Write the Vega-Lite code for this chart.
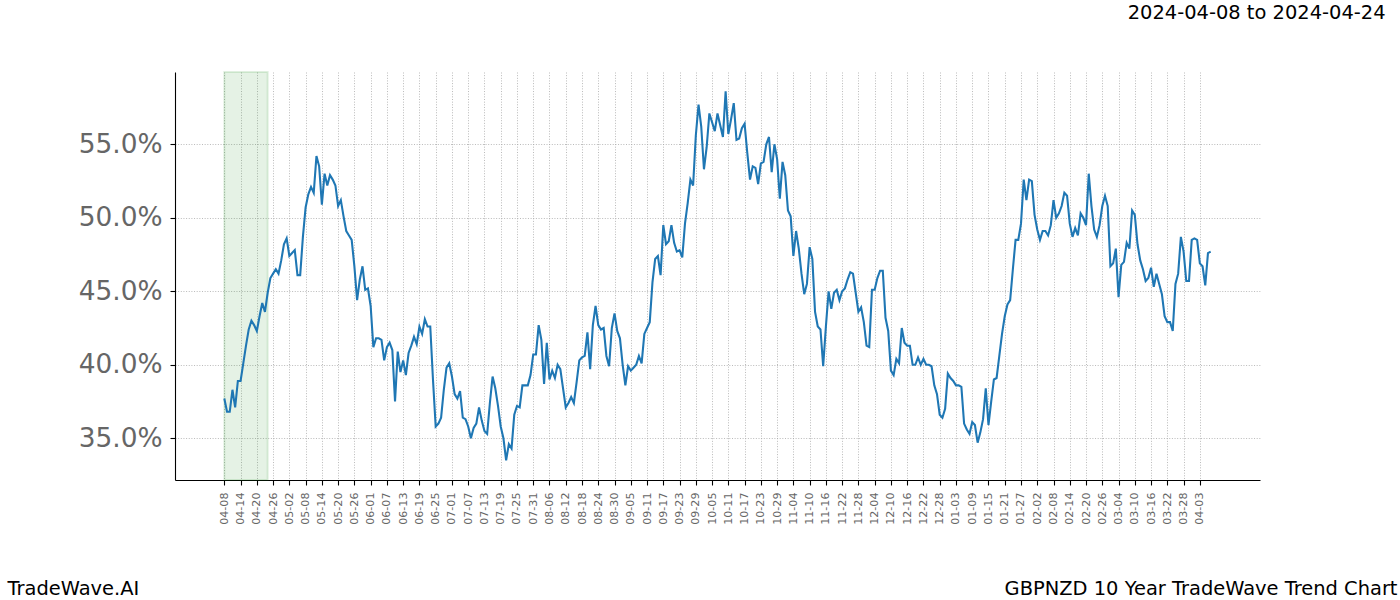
{
  "$schema": "https://vega.github.io/schema/vega-lite/v6.json",
  "width": 1085,
  "height": 408,
  "autosize": {"type": "none"},
  "padding": {"left": 175, "top": 72, "right": 140, "bottom": 120},
  "background": "white",
  "config": {"font": "DejaVu Sans", "view": {"stroke": null}},
  "layer": [
    {
      "data": {"values": [{"start": "2024-04-08", "end": "2024-04-24"}]},
      "mark": {"type": "rect", "fill": "green", "fillOpacity": 0.1, "stroke": "green", "strokeOpacity": 0.12, "strokeWidth": 2},
      "encoding": {
        "x": {
          "field": "start", "type": "temporal",
          "axis": {
            "orient": "top",
            "labels": false,
            "ticks": false,
            "domain": false,
            "grid": false,
            "title": "2024-04-08 to 2024-04-24",
            "titleAlign": "right",
            "titleBaseline": "alphabetic",
            "titleX": 1210,
            "titleY": -53.7,
            "titleFontSize": 19.44,
            "titleFontWeight": "normal",
            "titleColor": "#000000"
          }
        },
        "x2": {"field": "end"}
      }
    },
    {
      "data": {"values": [
        {"date": "2024-04-08", "v": 37.7}, {"date": "2024-04-09", "v": 36.8}, {"date": "2024-04-10", "v": 36.8}, {"date": "2024-04-11", "v": 38.3}, {"date": "2024-04-12", "v": 37.1}, {"date": "2024-04-13", "v": 38.9}, {"date": "2024-04-14", "v": 38.9}, {"date": "2024-04-15", "v": 40.1}, {"date": "2024-04-16", "v": 41.3}, {"date": "2024-04-17", "v": 42.4}, {"date": "2024-04-18", "v": 43.0}, {"date": "2024-04-19", "v": 42.7}, {"date": "2024-04-20", "v": 42.3}, {"date": "2024-04-21", "v": 43.3}, {"date": "2024-04-22", "v": 44.2}, {"date": "2024-04-23", "v": 43.6}, {"date": "2024-04-24", "v": 44.9}, {"date": "2024-04-25", "v": 45.9}, {"date": "2024-04-26", "v": 46.2}, {"date": "2024-04-27", "v": 46.5}, {"date": "2024-04-28", "v": 46.2}, {"date": "2024-04-29", "v": 47.1}, {"date": "2024-04-30", "v": 48.2},
        {"date": "2024-05-01", "v": 48.6}, {"date": "2024-05-02", "v": 47.4}, {"date": "2024-05-03", "v": 47.6}, {"date": "2024-05-04", "v": 47.8}, {"date": "2024-05-05", "v": 46.1}, {"date": "2024-05-06", "v": 46.1}, {"date": "2024-05-07", "v": 48.7}, {"date": "2024-05-08", "v": 50.7}, {"date": "2024-05-09", "v": 51.6}, {"date": "2024-05-10", "v": 52.1}, {"date": "2024-05-11", "v": 51.7}, {"date": "2024-05-12", "v": 54.2}, {"date": "2024-05-13", "v": 53.5}, {"date": "2024-05-14", "v": 50.9}, {"date": "2024-05-15", "v": 53.0}, {"date": "2024-05-16", "v": 52.2}, {"date": "2024-05-17", "v": 52.9}, {"date": "2024-05-18", "v": 52.6}, {"date": "2024-05-19", "v": 52.2}, {"date": "2024-05-20", "v": 50.8}, {"date": "2024-05-21", "v": 51.2}, {"date": "2024-05-22", "v": 50.1}, {"date": "2024-05-23", "v": 49.1}, {"date": "2024-05-24", "v": 48.8}, {"date": "2024-05-25", "v": 48.5}, {"date": "2024-05-26", "v": 46.7}, {"date": "2024-05-27", "v": 44.4}, {"date": "2024-05-28", "v": 45.8}, {"date": "2024-05-29", "v": 46.7}, {"date": "2024-05-30", "v": 45.1}, {"date": "2024-05-31", "v": 45.2},
        {"date": "2024-06-01", "v": 44.0}, {"date": "2024-06-02", "v": 41.2}, {"date": "2024-06-03", "v": 41.8}, {"date": "2024-06-04", "v": 41.8}, {"date": "2024-06-05", "v": 41.7}, {"date": "2024-06-06", "v": 40.3}, {"date": "2024-06-07", "v": 41.2}, {"date": "2024-06-08", "v": 41.5}, {"date": "2024-06-09", "v": 41.0}, {"date": "2024-06-10", "v": 37.5}, {"date": "2024-06-11", "v": 40.9}, {"date": "2024-06-12", "v": 39.5}, {"date": "2024-06-13", "v": 40.3}, {"date": "2024-06-14", "v": 39.3}, {"date": "2024-06-15", "v": 40.8}, {"date": "2024-06-16", "v": 41.3}, {"date": "2024-06-17", "v": 41.9}, {"date": "2024-06-18", "v": 41.4}, {"date": "2024-06-19", "v": 42.6}, {"date": "2024-06-20", "v": 42.1}, {"date": "2024-06-21", "v": 43.1}, {"date": "2024-06-22", "v": 42.6}, {"date": "2024-06-23", "v": 42.6}, {"date": "2024-06-24", "v": 39.0}, {"date": "2024-06-25", "v": 35.8}, {"date": "2024-06-26", "v": 36.0}, {"date": "2024-06-27", "v": 36.4}, {"date": "2024-06-28", "v": 38.3}, {"date": "2024-06-29", "v": 39.8}, {"date": "2024-06-30", "v": 40.1},
        {"date": "2024-07-01", "v": 39.2}, {"date": "2024-07-02", "v": 38.0}, {"date": "2024-07-03", "v": 37.7}, {"date": "2024-07-04", "v": 38.2}, {"date": "2024-07-05", "v": 36.4}, {"date": "2024-07-06", "v": 36.3}, {"date": "2024-07-07", "v": 35.8}, {"date": "2024-07-08", "v": 35.0}, {"date": "2024-07-09", "v": 35.7}, {"date": "2024-07-10", "v": 36.0}, {"date": "2024-07-11", "v": 37.1}, {"date": "2024-07-12", "v": 36.2}, {"date": "2024-07-13", "v": 35.5}, {"date": "2024-07-14", "v": 35.3}, {"date": "2024-07-15", "v": 37.4}, {"date": "2024-07-16", "v": 39.2}, {"date": "2024-07-17", "v": 38.4}, {"date": "2024-07-18", "v": 37.2}, {"date": "2024-07-19", "v": 35.8}, {"date": "2024-07-20", "v": 35.0}, {"date": "2024-07-21", "v": 33.5}, {"date": "2024-07-22", "v": 34.6}, {"date": "2024-07-23", "v": 34.3}, {"date": "2024-07-24", "v": 36.6}, {"date": "2024-07-25", "v": 37.2}, {"date": "2024-07-26", "v": 37.1}, {"date": "2024-07-27", "v": 38.6}, {"date": "2024-07-28", "v": 38.6}, {"date": "2024-07-29", "v": 38.6}, {"date": "2024-07-30", "v": 39.3}, {"date": "2024-07-31", "v": 40.7},
        {"date": "2024-08-01", "v": 40.7}, {"date": "2024-08-02", "v": 42.7}, {"date": "2024-08-03", "v": 41.7}, {"date": "2024-08-04", "v": 38.7}, {"date": "2024-08-05", "v": 41.5}, {"date": "2024-08-06", "v": 39.0}, {"date": "2024-08-07", "v": 39.6}, {"date": "2024-08-08", "v": 39.1}, {"date": "2024-08-09", "v": 40.0}, {"date": "2024-08-10", "v": 39.7}, {"date": "2024-08-11", "v": 38.4}, {"date": "2024-08-12", "v": 37.1}, {"date": "2024-08-13", "v": 37.4}, {"date": "2024-08-14", "v": 37.8}, {"date": "2024-08-15", "v": 37.4}, {"date": "2024-08-16", "v": 38.8}, {"date": "2024-08-17", "v": 40.3}, {"date": "2024-08-18", "v": 40.5}, {"date": "2024-08-19", "v": 40.6}, {"date": "2024-08-20", "v": 42.2}, {"date": "2024-08-21", "v": 39.7}, {"date": "2024-08-22", "v": 42.7}, {"date": "2024-08-23", "v": 44.0}, {"date": "2024-08-24", "v": 42.7}, {"date": "2024-08-25", "v": 42.4}, {"date": "2024-08-26", "v": 42.5}, {"date": "2024-08-27", "v": 40.6}, {"date": "2024-08-28", "v": 39.9}, {"date": "2024-08-29", "v": 42.5}, {"date": "2024-08-30", "v": 43.5}, {"date": "2024-08-31", "v": 42.3},
        {"date": "2024-09-01", "v": 41.8}, {"date": "2024-09-02", "v": 40.0}, {"date": "2024-09-03", "v": 38.6}, {"date": "2024-09-04", "v": 39.9}, {"date": "2024-09-05", "v": 39.6}, {"date": "2024-09-06", "v": 39.8}, {"date": "2024-09-07", "v": 40.0}, {"date": "2024-09-08", "v": 40.6}, {"date": "2024-09-09", "v": 40.1}, {"date": "2024-09-10", "v": 42.1}, {"date": "2024-09-11", "v": 42.5}, {"date": "2024-09-12", "v": 42.9}, {"date": "2024-09-13", "v": 45.6}, {"date": "2024-09-14", "v": 47.2}, {"date": "2024-09-15", "v": 47.4}, {"date": "2024-09-16", "v": 46.1}, {"date": "2024-09-17", "v": 49.5}, {"date": "2024-09-18", "v": 48.2}, {"date": "2024-09-19", "v": 48.4}, {"date": "2024-09-20", "v": 49.5}, {"date": "2024-09-21", "v": 48.3}, {"date": "2024-09-22", "v": 47.7}, {"date": "2024-09-23", "v": 47.8}, {"date": "2024-09-24", "v": 47.3}, {"date": "2024-09-25", "v": 49.6}, {"date": "2024-09-26", "v": 51.0}, {"date": "2024-09-27", "v": 52.6}, {"date": "2024-09-28", "v": 52.2}, {"date": "2024-09-29", "v": 55.6}, {"date": "2024-09-30", "v": 57.7},
        {"date": "2024-10-01", "v": 56.2}, {"date": "2024-10-02", "v": 53.3}, {"date": "2024-10-03", "v": 54.8}, {"date": "2024-10-04", "v": 57.1}, {"date": "2024-10-05", "v": 56.5}, {"date": "2024-10-06", "v": 55.9}, {"date": "2024-10-07", "v": 57.1}, {"date": "2024-10-08", "v": 56.3}, {"date": "2024-10-09", "v": 55.5}, {"date": "2024-10-10", "v": 58.6}, {"date": "2024-10-11", "v": 55.7}, {"date": "2024-10-12", "v": 56.7}, {"date": "2024-10-13", "v": 57.8}, {"date": "2024-10-14", "v": 55.3}, {"date": "2024-10-15", "v": 55.4}, {"date": "2024-10-16", "v": 56.1}, {"date": "2024-10-17", "v": 56.4}, {"date": "2024-10-18", "v": 54.4}, {"date": "2024-10-19", "v": 52.6}, {"date": "2024-10-20", "v": 53.5}, {"date": "2024-10-21", "v": 53.4}, {"date": "2024-10-22", "v": 52.3}, {"date": "2024-10-23", "v": 53.7}, {"date": "2024-10-24", "v": 53.8}, {"date": "2024-10-25", "v": 55.0}, {"date": "2024-10-26", "v": 55.5}, {"date": "2024-10-27", "v": 53.1}, {"date": "2024-10-28", "v": 55.0}, {"date": "2024-10-29", "v": 54.0}, {"date": "2024-10-30", "v": 51.3}, {"date": "2024-10-31", "v": 53.8},
        {"date": "2024-11-01", "v": 52.9}, {"date": "2024-11-02", "v": 50.5}, {"date": "2024-11-03", "v": 50.1}, {"date": "2024-11-04", "v": 47.4}, {"date": "2024-11-05", "v": 49.1}, {"date": "2024-11-06", "v": 47.9}, {"date": "2024-11-07", "v": 46.2}, {"date": "2024-11-08", "v": 44.8}, {"date": "2024-11-09", "v": 45.5}, {"date": "2024-11-10", "v": 48.0}, {"date": "2024-11-11", "v": 47.2}, {"date": "2024-11-12", "v": 43.6}, {"date": "2024-11-13", "v": 42.6}, {"date": "2024-11-14", "v": 42.4}, {"date": "2024-11-15", "v": 39.9}, {"date": "2024-11-16", "v": 42.6}, {"date": "2024-11-17", "v": 45.0}, {"date": "2024-11-18", "v": 43.8}, {"date": "2024-11-19", "v": 44.9}, {"date": "2024-11-20", "v": 45.1}, {"date": "2024-11-21", "v": 44.4}, {"date": "2024-11-22", "v": 45.0}, {"date": "2024-11-23", "v": 45.2}, {"date": "2024-11-24", "v": 45.8}, {"date": "2024-11-25", "v": 46.3}, {"date": "2024-11-26", "v": 46.2}, {"date": "2024-11-27", "v": 44.9}, {"date": "2024-11-28", "v": 43.6}, {"date": "2024-11-29", "v": 43.9}, {"date": "2024-11-30", "v": 42.9},
        {"date": "2024-12-01", "v": 41.3}, {"date": "2024-12-02", "v": 41.2}, {"date": "2024-12-03", "v": 45.1}, {"date": "2024-12-04", "v": 45.1}, {"date": "2024-12-05", "v": 45.9}, {"date": "2024-12-06", "v": 46.4}, {"date": "2024-12-07", "v": 46.4}, {"date": "2024-12-08", "v": 43.2}, {"date": "2024-12-09", "v": 42.3}, {"date": "2024-12-10", "v": 39.6}, {"date": "2024-12-11", "v": 39.3}, {"date": "2024-12-12", "v": 40.4}, {"date": "2024-12-13", "v": 40.1}, {"date": "2024-12-14", "v": 42.5}, {"date": "2024-12-15", "v": 41.5}, {"date": "2024-12-16", "v": 41.3}, {"date": "2024-12-17", "v": 41.3}, {"date": "2024-12-18", "v": 40.0}, {"date": "2024-12-19", "v": 40.0}, {"date": "2024-12-20", "v": 40.5}, {"date": "2024-12-21", "v": 40.0}, {"date": "2024-12-22", "v": 40.4}, {"date": "2024-12-23", "v": 40.0}, {"date": "2024-12-24", "v": 40.0}, {"date": "2024-12-25", "v": 39.9}, {"date": "2024-12-26", "v": 38.6}, {"date": "2024-12-27", "v": 38.0}, {"date": "2024-12-28", "v": 36.6}, {"date": "2024-12-29", "v": 36.4}, {"date": "2024-12-30", "v": 37.0}, {"date": "2024-12-31", "v": 39.4},
        {"date": "2025-01-01", "v": 39.1}, {"date": "2025-01-02", "v": 38.9}, {"date": "2025-01-03", "v": 38.6}, {"date": "2025-01-04", "v": 38.6}, {"date": "2025-01-05", "v": 38.5}, {"date": "2025-01-06", "v": 36.0}, {"date": "2025-01-07", "v": 35.6}, {"date": "2025-01-08", "v": 35.3}, {"date": "2025-01-09", "v": 36.1}, {"date": "2025-01-10", "v": 35.9}, {"date": "2025-01-11", "v": 34.7}, {"date": "2025-01-12", "v": 35.4}, {"date": "2025-01-13", "v": 36.3}, {"date": "2025-01-14", "v": 38.4}, {"date": "2025-01-15", "v": 35.9}, {"date": "2025-01-16", "v": 37.5}, {"date": "2025-01-17", "v": 39.0}, {"date": "2025-01-18", "v": 39.1}, {"date": "2025-01-19", "v": 40.6}, {"date": "2025-01-20", "v": 42.1}, {"date": "2025-01-21", "v": 43.3}, {"date": "2025-01-22", "v": 44.1}, {"date": "2025-01-23", "v": 44.4}, {"date": "2025-01-24", "v": 46.5}, {"date": "2025-01-25", "v": 48.5}, {"date": "2025-01-26", "v": 48.5}, {"date": "2025-01-27", "v": 49.6}, {"date": "2025-01-28", "v": 52.6}, {"date": "2025-01-29", "v": 51.2}, {"date": "2025-01-30", "v": 52.6}, {"date": "2025-01-31", "v": 52.5},
        {"date": "2025-02-01", "v": 50.2}, {"date": "2025-02-02", "v": 49.2}, {"date": "2025-02-03", "v": 48.5}, {"date": "2025-02-04", "v": 49.1}, {"date": "2025-02-05", "v": 49.1}, {"date": "2025-02-06", "v": 48.8}, {"date": "2025-02-07", "v": 49.5}, {"date": "2025-02-08", "v": 51.2}, {"date": "2025-02-09", "v": 50.0}, {"date": "2025-02-10", "v": 50.3}, {"date": "2025-02-11", "v": 50.8}, {"date": "2025-02-12", "v": 51.7}, {"date": "2025-02-13", "v": 51.5}, {"date": "2025-02-14", "v": 49.6}, {"date": "2025-02-15", "v": 48.7}, {"date": "2025-02-16", "v": 49.3}, {"date": "2025-02-17", "v": 48.8}, {"date": "2025-02-18", "v": 50.3}, {"date": "2025-02-19", "v": 50.0}, {"date": "2025-02-20", "v": 49.5}, {"date": "2025-02-21", "v": 53.0}, {"date": "2025-02-22", "v": 50.8}, {"date": "2025-02-23", "v": 49.2}, {"date": "2025-02-24", "v": 48.7}, {"date": "2025-02-25", "v": 49.5}, {"date": "2025-02-26", "v": 50.8}, {"date": "2025-02-27", "v": 51.5}, {"date": "2025-02-28", "v": 50.8},
        {"date": "2025-03-01", "v": 46.7}, {"date": "2025-03-02", "v": 46.9}, {"date": "2025-03-03", "v": 47.9}, {"date": "2025-03-04", "v": 44.6}, {"date": "2025-03-05", "v": 46.8}, {"date": "2025-03-06", "v": 47.0}, {"date": "2025-03-07", "v": 48.3}, {"date": "2025-03-08", "v": 47.9}, {"date": "2025-03-09", "v": 50.5}, {"date": "2025-03-10", "v": 50.2}, {"date": "2025-03-11", "v": 48.2}, {"date": "2025-03-12", "v": 47.1}, {"date": "2025-03-13", "v": 46.5}, {"date": "2025-03-14", "v": 45.7}, {"date": "2025-03-15", "v": 45.9}, {"date": "2025-03-16", "v": 46.6}, {"date": "2025-03-17", "v": 45.3}, {"date": "2025-03-18", "v": 46.2}, {"date": "2025-03-19", "v": 45.5}, {"date": "2025-03-20", "v": 44.8}, {"date": "2025-03-21", "v": 43.3}, {"date": "2025-03-22", "v": 42.9}, {"date": "2025-03-23", "v": 42.9}, {"date": "2025-03-24", "v": 42.3}, {"date": "2025-03-25", "v": 45.5}, {"date": "2025-03-26", "v": 46.2}, {"date": "2025-03-27", "v": 48.7}, {"date": "2025-03-28", "v": 47.7}, {"date": "2025-03-29", "v": 45.7}, {"date": "2025-03-30", "v": 45.7}, {"date": "2025-03-31", "v": 48.5},
        {"date": "2025-04-01", "v": 48.6}, {"date": "2025-04-02", "v": 48.5}, {"date": "2025-04-03", "v": 46.9}, {"date": "2025-04-04", "v": 46.7}, {"date": "2025-04-05", "v": 45.4}, {"date": "2025-04-06", "v": 47.6}, {"date": "2025-04-07", "v": 47.7}
      ]},
      "mark": {"type": "line", "color": "#1f77b4", "strokeWidth": 2.08},
      "encoding": {
        "x": {
          "field": "date", "type": "temporal",
          "scale": {"type": "utc", "domain": [1710961920000, 1745556480000]},
          "axis": {
            "orient": "bottom",
            "values": [1712534400000, 1713052800000, 1713571200000, 1714089600000, 1714608000000, 1715126400000, 1715644800000, 1716163200000, 1716681600000, 1717200000000, 1717718400000, 1718236800000, 1718755200000, 1719273600000, 1719792000000, 1720310400000, 1720828800000, 1721347200000, 1721865600000, 1722384000000, 1722902400000, 1723420800000, 1723939200000, 1724457600000, 1724976000000, 1725494400000, 1726012800000, 1726531200000, 1727049600000, 1727568000000, 1728086400000, 1728604800000, 1729123200000, 1729641600000, 1730160000000, 1730678400000, 1731196800000, 1731715200000, 1732233600000, 1732752000000, 1733270400000, 1733788800000, 1734307200000, 1734825600000, 1735344000000, 1735862400000, 1736380800000, 1736899200000, 1737417600000, 1737936000000, 1738454400000, 1738972800000, 1739491200000, 1740009600000, 1740528000000, 1741046400000, 1741564800000, 1742083200000, 1742601600000, 1743120000000, 1743638400000],
            "tickCount": 200,
            "format": "%m-%d",
            "labelAngle": -90,
            "labelFontSize": 11.1,
            "labelColor": "#666666",
            "labelPadding": 7,
            "labelOverlap": false,
            "labelFlush": false,
            "labelBound": false,
            "tickSize": 5,
            "tickColor": "#000000",
            "tickWidth": 1.1,
            "domainColor": "#000000",
            "domainWidth": 1.1,
            "grid": true,
            "gridColor": "#a8a8a8",
            "gridDash": [1, 1.65],
            "gridWidth": 0.8,
            "title": "TradeWave.AI",
            "titleAlign": "left",
            "titleAnchor": "start",
            "titleBaseline": "alphabetic",
            "titleX": -168,
            "titleY": 114,
            "titleFontSize": 19.44,
            "titleFontWeight": "normal",
            "titleColor": "#000000"
          }
        },
        "y": {
          "field": "v", "type": "quantitative",
          "scale": {"domain": [32.16, 59.92], "nice": false, "zero": false},
          "axis": {
            "values": [35, 40, 45, 50, 55],
            "labelExpr": "format(datum.value, '.1f') + '%'",
            "labelFontSize": 26.4,
            "labelColor": "#666666",
            "labelPadding": 8,
            "tickSize": 5,
            "tickColor": "#000000",
            "tickWidth": 1.1,
            "domainColor": "#000000",
            "domainWidth": 1.1,
            "grid": true,
            "gridColor": "#a8a8a8",
            "gridDash": [1, 1.65],
            "gridWidth": 0.8,
            "title": "GBPNZD 10 Year TradeWave Trend Chart",
            "titleAngle": 0,
            "titleAlign": "right",
            "titleBaseline": "alphabetic",
            "titleX": 1222,
            "titleY": 522,
            "titleFontSize": 19.44,
            "titleFontWeight": "normal",
            "titleColor": "#000000"
          }
        }
      }
    }
  ]
}
